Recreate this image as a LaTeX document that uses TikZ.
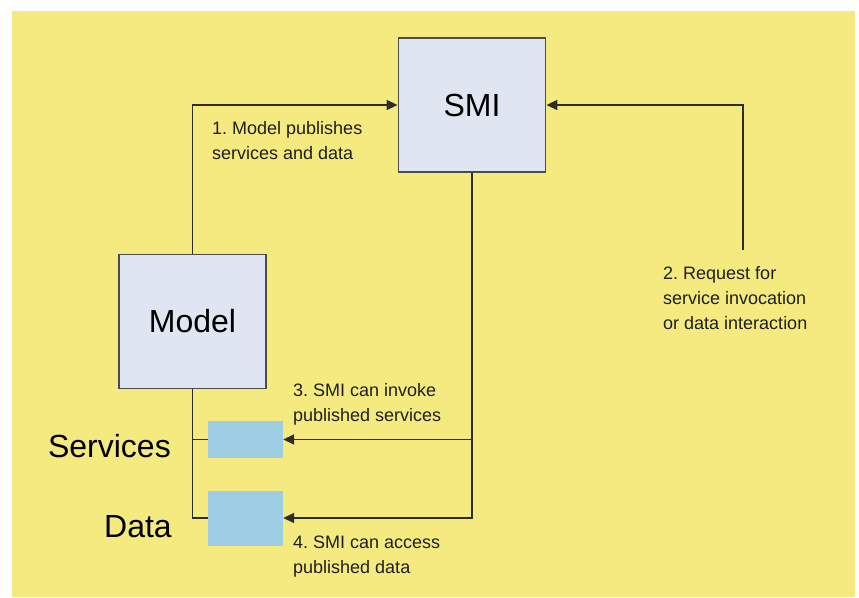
\documentclass[tikz,border=0pt]{standalone}
\usepackage{fontspec}
\setmainfont{Liberation Sans}
\usetikzlibrary{arrows.meta,positioning}
\frenchspacing
\definecolor{bgyellow}{RGB}{244,234,128}
\definecolor{boxfill}{RGB}{224,229,242}
\definecolor{slotblue}{RGB}{158,206,228}
\definecolor{wire}{RGB}{45,45,45}

\begin{document}
\begin{tikzpicture}[x=1pt, y=-1pt,
  blk/.style={draw=wire!85, line width=1.8pt, fill=boxfill, minimum width=147pt,
              minimum height=134pt, font=\fontsize{32}{36}\selectfont},
  slot/.style={fill=slotblue, minimum width=75pt, inner sep=0pt},
  note/.style={anchor=north west, align=left, inner sep=0pt, text=black!88,
               font=\fontsize{18}{25}\selectfont},
  side/.style={anchor=base east, inner sep=0pt, font=\fontsize{32}{36}\selectfont},
  wires/.style={draw=wire, line width=1.7pt},
  >={Triangle[length=11pt,width=10pt]}]
  % canvas
  \useasboundingbox (0,0) rectangle (859,597);
  \fill[bgyellow] (12,11) rectangle (855,597);

  % boxes
  \node[blk] (smi) at (472,105) {SMI};
  \node[blk] (model) at (192.5,321.5) {Model};
  \node[slot, minimum height=37pt] (svc) at (245.5,439.5) {};
  \node[slot, minimum height=55pt] (dat) at (245.5,518) {};
  \node[side] (svclbl) at (171,457) {Services};
  \node[side] (datlbl) at (172,537) {Data};

  % request comes in from the right
  \coordinate (req) at (743,250);

  % connectors
  \draw[wires, ->] (model.north) |- (smi.west);
  \draw[wires, ->] (req) |- (smi.east);
  \draw[wires, ->] (smi.south) |- (dat.east);
  \draw[wires, ->] (smi.south |- svc.east) -- (svc.east);
  \draw[wires] (model.south) |- (dat.west);
  \draw[wires] (model.south |- svc.west) -- (svc.west);

  % step labels
  \node[note] (n1) at (212,121) {1. Model publishes\\services and data};
  \node[note] (n2) at (663,266) {2. Request for\\service invocation\\or data interaction};
  \node[note] (n3) at (293,383) {3. SMI can invoke\\published services};
  \node[note] (n4) at (293,536) {4. SMI can access\\published data};
\end{tikzpicture}
\end{document}
